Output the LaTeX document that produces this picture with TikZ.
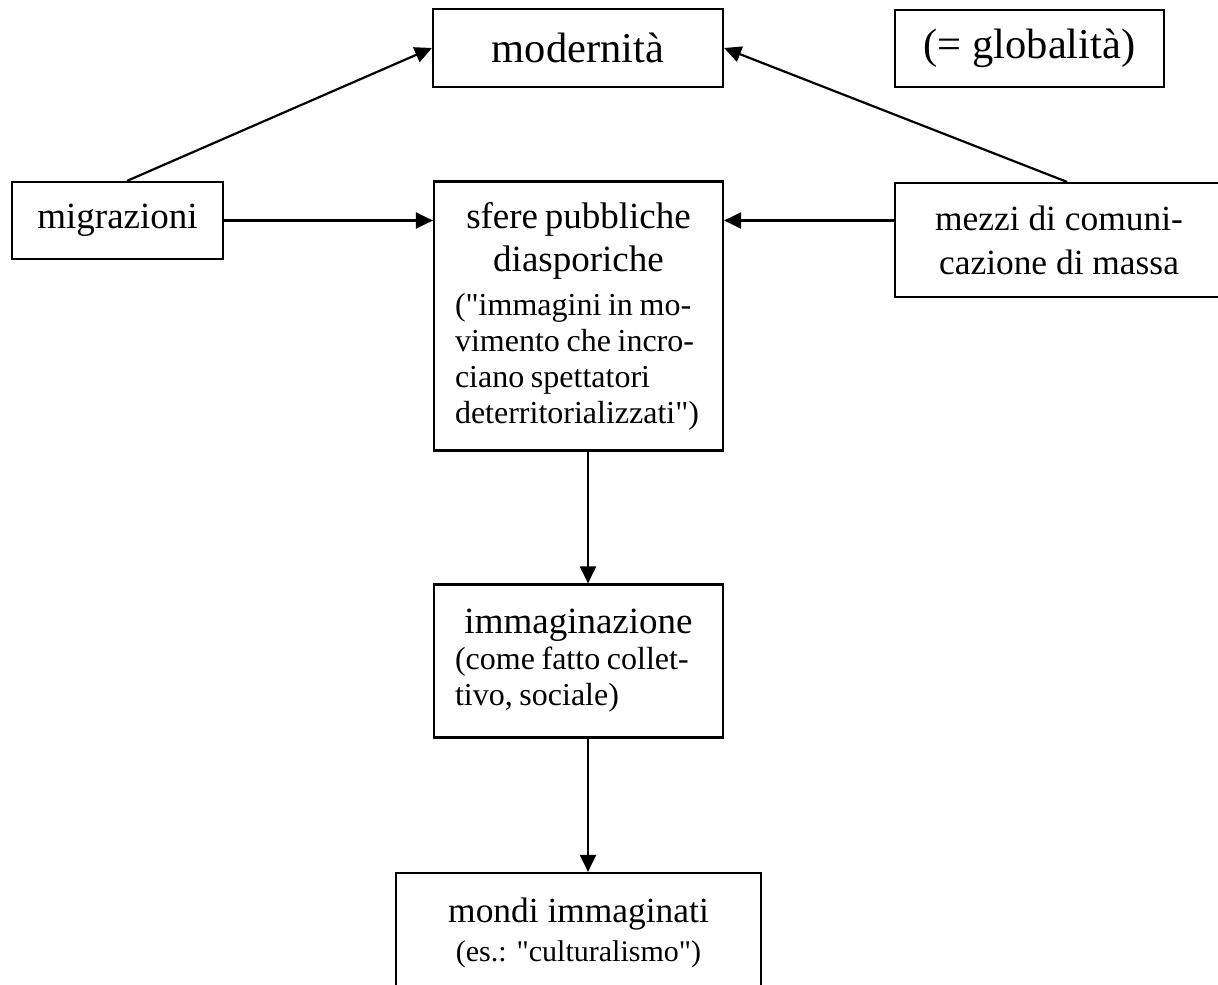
\documentclass[tikz,border=0pt]{standalone}
\usepackage{fontspec}
\setmainfont{Liberation Serif}[Ligatures=TeXOff]
\usetikzlibrary{arrows.meta}

\newcommand{\sizetop}{\fontsize{21.25}{25}\selectfont}
\newcommand{\sizemain}{\fontsize{18.5}{21.5}\selectfont}
\newcommand{\sizenote}{\fontsize{16}{18}\selectfont}
\newcommand{\sizemid}{\fontsize{17.7}{22}\selectfont}
\newcommand{\sizesub}{\fontsize{15}{17.5}\selectfont}

\begin{document}
\begin{tikzpicture}
			[
				x                       = 0.5pt,
				y                       = -0.5pt,
				box/.style              = {draw, line width=1.1pt, inner sep=0pt},
				arr/.style              = {line width=1.1pt, -{Triangle[length=8.5pt,width=8pt]}}
			]
			\useasboundingbox (0,0) rectangle (1218,984);
			% upper row
			\node [box, minimum width=145pt, minimum height=39pt, font=\sizetop] (mod) at (578,48) {modernità};
			\node [box, minimum width=134.5pt, minimum height=38.5pt, font=\sizetop] (glob) at (1029.5,48.5) {(= globalità)};
			% middle row
			\node [box, minimum width=105.5pt, minimum height=38.5pt, font=\sizemain] (mig) at (117.5,220.5) {migrazioni};
			\node [box, minimum width=144.5pt, minimum height=134.5pt, text width=123.5pt] (sfere) at (578.5,316)
				{\centering\sizemain sfere pubbliche\\diasporiche\par\vspace{4pt}
				 \raggedright\sizenote ("immagini in mo-\\vimento che incro-\\ciano spettatori\\deterritorializzati")\par};
			\node [box, minimum width=164pt, minimum height=57pt, align=center, font=\sizemid] (mezzi) at (1059,240)
				{mezzi di comuni-\\cazione di massa};
			% lower column
			\node [box, minimum width=144.5pt, minimum height=76.5pt, text width=123.5pt] (imm) at (578.5,661)
				{\centering\sizemain immaginazione\par
				 \raggedright\sizenote (come fatto collet-\\tivo, sociale)\par};
			\node [box, minimum width=182.5pt, minimum height=60pt, align=center] (mondi) at (578.5,933)
				{\sizemid mondi immaginati\\[4pt]\sizesub (es.: "culturalismo")};
			% connectors
			\draw [arr] ([xshift=4.75pt]mig.north) -- (mod.west);
			\draw [arr] ([xshift=4pt]mezzi.north) -- (mod.east);
			\draw [arr] (mig.east) -- (sfere.west |- mig.east);
			\draw [arr] (mezzi.west |- mig.east) -- (sfere.east |- mig.east);
			\draw [arr] ([xshift=4.75pt]sfere.south) -- ([xshift=4.75pt]imm.north);
			\draw [arr] ([xshift=4.75pt]imm.south) -- ([xshift=4.75pt]mondi.north);
		\end{tikzpicture}
\end{document}
